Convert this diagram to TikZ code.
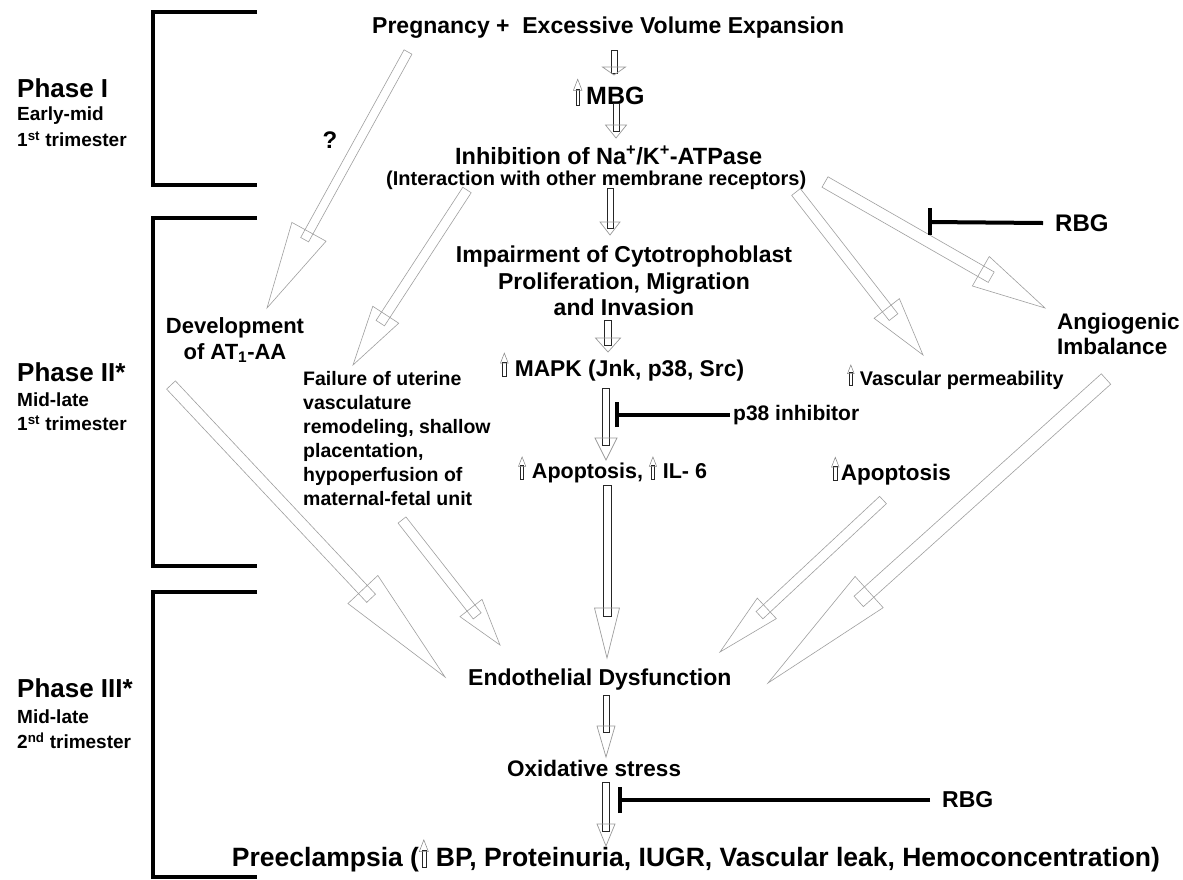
\documentclass[tikz,border=0pt]{standalone}
\usepackage{fontspec}
\setmainfont{Liberation Sans}
\usepackage{graphicx}
\usetikzlibrary{calc}

\newcommand\fsz[2]{\fontsize{#1pt}{#2pt}\selectfont}
\newcommand\uparr{\tikz[baseline=0pt,x=1em,y=1em,line width=0.5pt,line join=miter]{%
  \draw[black!85] (-0.075,0) rectangle (0.075,0.64);
  \draw[gray] (-0.17,0.58) -- (0,1.02) -- (0.17,0.58) -- cycle;}}
% #1 shaft style, #2 head style, #3 tail, #4 tip, #5 shaft half width, #6 head half width, #7 head length
\newcommand\blockarrow[7]{%
  \coordinate (baB) at ($(#4)!#7pt!(#3)$);
  \coordinate (baS) at ($(#4)!#7pt-2*#5pt!(#3)$);
  \draw[#1] ($(#3)!#5pt!90:(#4)$) -- ($(#3)!#5pt!-90:(#4)$) -- ($(baS)!#5pt!-90:(#4)$) -- ($(baS)!#5pt!90:(#4)$) -- cycle;
  \draw[#2] ($(baB)!#6pt!90:(#4)$) -- (#4) -- ($(baB)!#6pt!-90:(#4)$) -- cycle;
}

\begin{document}
\begin{tikzpicture}[x=1pt,y=-1pt,
  txt/.style={inner sep=0pt,font=\bfseries},
  bracket/.style={line width=4.5pt,line join=miter},
  inhib/.style={line width=4pt},
  cshaft/.style={draw=black!85,line width=0.9pt},
  chead/.style={draw=gray!80,line width=0.7pt},
  dshaft/.style={draw=gray!75,line width=0.6pt},
  dhead/.style={draw=gray!75,line width=0.6pt}]
\useasboundingbox[fill=white] (0,0) rectangle (1183,879);

% phase brackets
\draw[bracket] (257,12) -| (153,185) -- (257,185);
\draw[bracket] (257,218) -| (153,566) -- (257,566);
\draw[bracket] (257,592) -| (153,877) -- (257,877);

% phase labels
\node[txt,anchor=west,font=\bfseries\fsz{26}{30}] (ph1) at (17,88) {Phase I};
\node[txt,anchor=west,font=\bfseries\fsz{19}{22}] (ph1a) at (17,116) {Early-mid};
\node[txt,anchor=west,font=\bfseries\fsz{19}{22}] (ph1b) at (17,139) {1\textsuperscript{st} trimester};
\node[txt,anchor=west,font=\bfseries\fsz{26}{30}] (ph2) at (17,372) {Phase II*};
\node[txt,anchor=west,font=\bfseries\fsz{19}{22}] (ph2a) at (17,400) {Mid-late};
\node[txt,anchor=west,font=\bfseries\fsz{19}{22}] (ph2b) at (17,423) {1\textsuperscript{st} trimester};
\node[txt,anchor=west,font=\bfseries\fsz{26}{30}] (ph3) at (17,688) {Phase III*};
\node[txt,anchor=west,font=\bfseries\fsz{19}{22}] (ph3a) at (17,717) {Mid-late};
\node[txt,anchor=west,font=\bfseries\fsz{19}{22}] (ph3b) at (17,741) {2\textsuperscript{nd} trimester};

% main texts
\node[txt,anchor=west,font=\bfseries\fsz{23}{27}] (title) at (372,28) {Pregnancy +\ \ Excessive Volume Expansion};
\node[txt,anchor=west,font=\bfseries\fsz{25}{29}] (mbg) at (573,92) {\uparr\hspace{4pt}MBG};
\node[txt,anchor=west,font=\bfseries\fsz{23.5}{27}] (inh) at (455,155) {Inhibition of Na\textsuperscript{+}/K\textsuperscript{+}-ATPase};
\node[txt,anchor=west,font=\bfseries\fsz{20}{23}] (inter) at (386,180) {(Interaction with other membrane receptors)};
\node[txt,align=center,font=\bfseries\fsz{23}{26.5}] (imp) at (624,281) {Impairment of Cytotrophoblast\\Proliferation, Migration\\and Invasion};
\node[txt,anchor=west,font=\bfseries\fsz{22.8}{26}] (mapk) at (500,367) {\uparr\ MAPK (Jnk, p38, Src)};
\node[txt,anchor=west,font=\bfseries\fsz{21}{24}] (p38) at (733,415) {p38 inhibitor};
\node[txt,anchor=west,font=\bfseries\fsz{21.5}{25}] (apo) at (518,470) {\uparr\ Apoptosis, \uparr\ IL- 6};
\node[txt,anchor=west,font=\bfseries\fsz{19.8}{23}] (vasc) at (847,377) {\uparr\ Vascular permeability};
\node[txt,anchor=west,font=\bfseries\fsz{22.5}{26}] (apo2) at (831,471) {\uparr\hspace{1.5pt}Apoptosis};
\node[txt,anchor=west,align=left,font=\bfseries\fsz{22.5}{25}] (angio) at (1057,334) {Angiogenic\\Imbalance};
\node[txt,align=center,font=\bfseries\fsz{22}{26}] (dev) at (235,340) {Development\\of AT\textsubscript{1}-AA};
\node[txt,anchor=west,align=left,font=\bfseries\fsz{19.5}{24}] (fail) at (303,439) {Failure of uterine\\vasculature\\remodeling, shallow\\placentation,\\hypoperfusion of\\maternal-fetal unit};
\node[txt,anchor=west,font=\bfseries\fsz{23}{27}] (endo) at (468,680) {Endothelial Dysfunction};
\node[txt,anchor=west,font=\bfseries\fsz{22.5}{27}] (oxi) at (507,768) {Oxidative stress};
\node[txt,font=\bfseries\fsz{26.5}{30}] (pre) at (696,856) {Preeclampsia (\uparr\ BP, Proteinuria, IUGR, Vascular leak, Hemoconcentration)};
\node[txt,anchor=west,font=\bfseries\fsz{24}{28}] (rbg1) at (1055,223) {RBG};
\node[txt,anchor=west,font=\bfseries\fsz{23}{27}] (rbg2) at (942,800) {RBG};
\node[txt,font=\bfseries\fsz{24}{28}] (q) at (330,140) {?};

% arrow end points
\coordinate (a1t) at (614,50);  \coordinate (a1h) at (614,75);
\coordinate (a2t) at (616,103); \coordinate (a2h) at (616,138);
\coordinate (a3t) at (610,188); \coordinate (a3h) at (610,235);
\coordinate (a4t) at (608,320); \coordinate (a4h) at (608,352);
\coordinate (a5t) at (606,388); \coordinate (a5h) at (606,460);
\coordinate (a6t) at (607,485); \coordinate (a6h) at (607,658);
\coordinate (a7t) at (606,695); \coordinate (a7h) at (606,757);
\coordinate (a8t) at (606,782); \coordinate (a8h) at (606,846);

\blockarrow{cshaft}{chead}{a1t}{a1h}{3}{11.5}{8}
\blockarrow{cshaft}{chead}{a2t}{a2h}{3}{10.5}{13}
\blockarrow{cshaft}{chead}{a3t}{a3h}{3}{10}{13}
\blockarrow{cshaft}{chead}{a4t}{a4h}{3.5}{12.5}{14}
\blockarrow{cshaft}{chead}{a5t}{a5h}{3.5}{11}{22}
\blockarrow{cshaft}{chead}{a6t}{a6h}{4}{12.5}{50}
\blockarrow{cshaft}{chead}{a7t}{a7h}{3}{9}{31}
\blockarrow{cshaft}{chead}{a8t}{a8h}{3.5}{9}{22}

% diagonal arrows
\coordinate (d1t) at (408,52);   \coordinate (d1h) at (267,308);
\coordinate (d2t) at (467,190);  \coordinate (d2h) at (353,365);
\coordinate (d3t) at (796,192);  \coordinate (d3h) at (923,355);
\coordinate (d4t) at (825,182);  \coordinate (d4h) at (1045,308);
\coordinate (d5t) at (171,385);  \coordinate (d5h) at (445,677);
\coordinate (d6t) at (402,520);  \coordinate (d6h) at (500,645);
\coordinate (d7t) at (883,500);  \coordinate (d7h) at (720,652);
\coordinate (d8t) at (1106,379); \coordinate (d8h) at (768,683);

\blockarrow{dshaft}{dhead}{d1t}{d1h}{4.5}{19.5}{87}
\blockarrow{dshaft}{dhead}{d2t}{d2h}{5}{15.5}{60}
\blockarrow{dshaft}{dhead}{d3t}{d3h}{5.5}{16}{59}
\blockarrow{dshaft}{dhead}{d4t}{d4h}{6}{17}{74}
\blockarrow{dshaft}{dhead}{d5t}{d5h}{6}{20.5}{120}
\blockarrow{dshaft}{dhead}{d6t}{d6h}{5}{14}{47}
\blockarrow{dshaft}{dhead}{d7t}{d7h}{5}{14}{64}
\blockarrow{dshaft}{dhead}{d8t}{d8h}{7}{21}{136}

% inhibitors
\coordinate (b1) at (930,222);
\draw[inhib] ([xshift=-12pt]rbg1.west) -- (b1);
\draw[inhib] ([yshift=-13pt]b1) -- ([yshift=14pt]b1);
\coordinate (b2) at (617,415);
\draw[inhib] ([xshift=-3pt]p38.west) -- (b2);
\draw[inhib] ([yshift=-12pt]b2) -- ([yshift=13pt]b2);
\coordinate (b3) at (620,800);
\draw[inhib] ([xshift=-12pt]rbg2.west) -- (b3);
\draw[inhib] ([yshift=-13pt]b3) -- ([yshift=13pt]b3);
\end{tikzpicture}
\end{document}
